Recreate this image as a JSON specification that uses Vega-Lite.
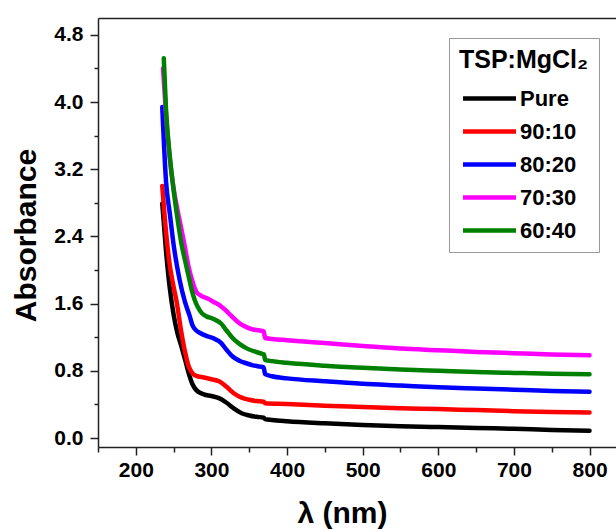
{
  "$schema": "https://vega.github.io/schema/vega-lite/v6.json",
  "width": 518,
  "height": 429,
  "autosize": {"type": "none"},
  "padding": {"left": 98, "top": 18, "right": 0, "bottom": 85},
  "background": "white",
  "config": {"view": {"stroke": null}, "font": "Liberation Sans"},
  "data": {"values": [
    {"s":"Pure","x":235,"y":2.79},{"s":"Pure","x":240,"y":2.22},{"s":"Pure","x":245,"y":1.78},{"s":"Pure","x":250,"y":1.47},{"s":"Pure","x":255,"y":1.25},{"s":"Pure","x":260,"y":1.1},{"s":"Pure","x":265,"y":0.94},{"s":"Pure","x":270,"y":0.77},{"s":"Pure","x":275,"y":0.64},{"s":"Pure","x":280,"y":0.57},{"s":"Pure","x":290,"y":0.52},{"s":"Pure","x":300,"y":0.5},{"s":"Pure","x":310,"y":0.475},{"s":"Pure","x":320,"y":0.42},{"s":"Pure","x":330,"y":0.35},{"s":"Pure","x":340,"y":0.295},{"s":"Pure","x":350,"y":0.268},{"s":"Pure","x":360,"y":0.252},{"s":"Pure","x":369,"y":0.242},{"s":"Pure","x":371,"y":0.225},{"s":"Pure","x":380,"y":0.215},{"s":"Pure","x":400,"y":0.2},{"s":"Pure","x":450,"y":0.175},{"s":"Pure","x":500,"y":0.155},{"s":"Pure","x":550,"y":0.14},{"s":"Pure","x":600,"y":0.13},{"s":"Pure","x":650,"y":0.12},{"s":"Pure","x":700,"y":0.11},{"s":"Pure","x":750,"y":0.096},{"s":"Pure","x":800,"y":0.087},
    {"s":"90:10","x":235,"y":3.0},{"s":"90:10","x":240,"y":2.45},{"s":"90:10","x":245,"y":2.05},{"s":"90:10","x":250,"y":1.8},{"s":"90:10","x":254,"y":1.62},{"s":"90:10","x":260,"y":1.27},{"s":"90:10","x":265,"y":1.03},{"s":"90:10","x":270,"y":0.85},{"s":"90:10","x":275,"y":0.77},{"s":"90:10","x":280,"y":0.74},{"s":"90:10","x":290,"y":0.72},{"s":"90:10","x":300,"y":0.7},{"s":"90:10","x":310,"y":0.675},{"s":"90:10","x":320,"y":0.61},{"s":"90:10","x":330,"y":0.53},{"s":"90:10","x":340,"y":0.48},{"s":"90:10","x":350,"y":0.455},{"s":"90:10","x":360,"y":0.44},{"s":"90:10","x":369,"y":0.432},{"s":"90:10","x":371,"y":0.415},{"s":"90:10","x":400,"y":0.405},{"s":"90:10","x":450,"y":0.385},{"s":"90:10","x":500,"y":0.37},{"s":"90:10","x":550,"y":0.355},{"s":"90:10","x":600,"y":0.345},{"s":"90:10","x":650,"y":0.332},{"s":"90:10","x":700,"y":0.32},{"s":"90:10","x":750,"y":0.31},{"s":"90:10","x":800,"y":0.305},
    {"s":"80:20","x":235,"y":3.94},{"s":"80:20","x":240,"y":3.05},{"s":"80:20","x":245,"y":2.67},{"s":"80:20","x":250,"y":2.3},{"s":"80:20","x":258,"y":1.88},{"s":"80:20","x":265,"y":1.62},{"s":"80:20","x":271,"y":1.46},{"s":"80:20","x":275,"y":1.34},{"s":"80:20","x":280,"y":1.28},{"s":"80:20","x":285,"y":1.25},{"s":"80:20","x":295,"y":1.21},{"s":"80:20","x":302,"y":1.19},{"s":"80:20","x":313,"y":1.13},{"s":"80:20","x":320,"y":1.05},{"s":"80:20","x":328,"y":0.97},{"s":"80:20","x":337,"y":0.92},{"s":"80:20","x":346,"y":0.89},{"s":"80:20","x":355,"y":0.865},{"s":"80:20","x":364,"y":0.85},{"s":"80:20","x":369,"y":0.842},{"s":"80:20","x":371,"y":0.76},{"s":"80:20","x":380,"y":0.735},{"s":"80:20","x":400,"y":0.71},{"s":"80:20","x":450,"y":0.675},{"s":"80:20","x":500,"y":0.645},{"s":"80:20","x":550,"y":0.625},{"s":"80:20","x":600,"y":0.605},{"s":"80:20","x":650,"y":0.59},{"s":"80:20","x":700,"y":0.575},{"s":"80:20","x":750,"y":0.56},{"s":"80:20","x":800,"y":0.55},
    {"s":"70:30","x":236,"y":4.4},{"s":"70:30","x":240,"y":3.85},{"s":"70:30","x":245,"y":3.32},{"s":"70:30","x":250,"y":2.97},{"s":"70:30","x":255,"y":2.72},{"s":"70:30","x":260,"y":2.5},{"s":"70:30","x":265,"y":2.27},{"s":"70:30","x":270,"y":2.03},{"s":"70:30","x":275,"y":1.86},{"s":"70:30","x":280,"y":1.74},{"s":"70:30","x":287,"y":1.69},{"s":"70:30","x":295,"y":1.66},{"s":"70:30","x":303,"y":1.62},{"s":"70:30","x":311,"y":1.58},{"s":"70:30","x":320,"y":1.51},{"s":"70:30","x":328,"y":1.44},{"s":"70:30","x":335,"y":1.38},{"s":"70:30","x":342,"y":1.34},{"s":"70:30","x":352,"y":1.3},{"s":"70:30","x":364,"y":1.28},{"s":"70:30","x":369,"y":1.27},{"s":"70:30","x":371,"y":1.19},{"s":"70:30","x":380,"y":1.18},{"s":"70:30","x":400,"y":1.165},{"s":"70:30","x":450,"y":1.13},{"s":"70:30","x":500,"y":1.095},{"s":"70:30","x":550,"y":1.065},{"s":"70:30","x":600,"y":1.045},{"s":"70:30","x":650,"y":1.025},{"s":"70:30","x":700,"y":1.01},{"s":"70:30","x":750,"y":0.995},{"s":"70:30","x":800,"y":0.985},
    {"s":"60:40","x":237,"y":4.52},{"s":"60:40","x":240,"y":3.9},{"s":"60:40","x":245,"y":3.35},{"s":"60:40","x":250,"y":2.95},{"s":"60:40","x":255,"y":2.62},{"s":"60:40","x":260,"y":2.33},{"s":"60:40","x":265,"y":2.12},{"s":"60:40","x":270,"y":1.92},{"s":"60:40","x":274,"y":1.76},{"s":"60:40","x":278,"y":1.64},{"s":"60:40","x":282,"y":1.56},{"s":"60:40","x":287,"y":1.49},{"s":"60:40","x":293,"y":1.45},{"s":"60:40","x":302,"y":1.42},{"s":"60:40","x":313,"y":1.36},{"s":"60:40","x":320,"y":1.28},{"s":"60:40","x":328,"y":1.19},{"s":"60:40","x":337,"y":1.12},{"s":"60:40","x":346,"y":1.07},{"s":"60:40","x":357,"y":1.03},{"s":"60:40","x":368,"y":1.0},{"s":"60:40","x":369.5,"y":0.995},{"s":"60:40","x":371,"y":0.93},{"s":"60:40","x":380,"y":0.915},{"s":"60:40","x":400,"y":0.895},{"s":"60:40","x":450,"y":0.86},{"s":"60:40","x":500,"y":0.835},{"s":"60:40","x":550,"y":0.815},{"s":"60:40","x":600,"y":0.8},{"s":"60:40","x":650,"y":0.785},{"s":"60:40","x":700,"y":0.775},{"s":"60:40","x":750,"y":0.765},{"s":"60:40","x":800,"y":0.76}
  ]},
  "layer": [
    {
      "mark": {"type": "line", "strokeWidth": 4.5, "interpolate": "monotone", "strokeCap": "round", "strokeJoin": "round"},
      "encoding": {
        "x": {"field": "x", "type": "quantitative",
          "scale": {"domain": [150, 835], "nice": false, "zero": false},
          "axis": {
            "values": [150,200,250,300,350,400,450,500,550,600,650,700,750,800],
            "labelExpr": "datum.value % 100 == 0 ? datum.label : ''",
            "format": "d",
            "grid": false,
            "domainColor": "#222", "domainWidth": 1.5,
            "tickColor": "#222", "tickWidth": 1.5,
            "tickSize": {"condition": {"test": "datum.value % 100 == 0", "value": 8}, "value": 5},
            "labelFont": "Liberation Sans", "labelFontWeight": "bold", "labelFontSize": 21, "labelColor": "black",
            "labelPadding": 4, "labelFlush": false, "labelOverlap": false,
            "title": "λ (nm)", "titleFont": "Liberation Sans", "titleFontWeight": "bold", "titleFontSize": 30, "titleColor": "black",
            "titleX": 244, "titleY": 75, "titleAlign": "center", "titleBaseline": "alphabetic"
          }
        },
        "y": {"field": "y", "type": "quantitative",
          "scale": {"domain": [-0.107, 5.0], "nice": false, "zero": false},
          "axis": {
            "values": [0,0.4,0.8,1.2,1.6,2,2.4,2.8,3.2,3.6,4,4.4,4.8],
            "labelExpr": "abs(datum.value/0.8 - round(datum.value/0.8)) < 0.01 ? format(datum.value, '.1f') : ''",
            "grid": false,
            "domainColor": "#222", "domainWidth": 1.5,
            "tickColor": "#222", "tickWidth": 1.5,
            "tickSize": {"condition": {"test": "abs(datum.value/0.8 - round(datum.value/0.8)) < 0.01", "value": 8}, "value": 4},
            "labelFont": "Liberation Sans", "labelFontWeight": "bold", "labelFontSize": 21, "labelColor": "black",
            "labelPadding": 7, "labelFlush": false, "labelOverlap": false,
            "title": "Absorbance", "titleFont": "Liberation Sans", "titleFontWeight": "bold", "titleFontSize": 30, "titleColor": "black",
            "titleX": -63, "titleY": 217, "titleAlign": "center", "titleBaseline": "alphabetic", "titleAngle": -90
          }
        },
        "color": {"field": "s", "type": "nominal",
          "scale": {"domain": ["Pure","90:10","80:20","70:30","60:40"], "range": ["#000000","#ff0000","#0000ff","#ff00ff","#008000"]},
          "legend": {
            "orient": "none", "legendX": 351, "legendY": 20,
            "title": "TSP:MgCl₂", "titleFont": "Liberation Sans", "titleFontWeight": "bold", "titleFontSize": 25, "titleColor": "black", "titlePadding": 10,
            "labelFont": "Liberation Sans", "labelFontWeight": "bold", "labelFontSize": 22, "labelColor": "black", "labelOffset": 15,
            "symbolType": "M-2,0H2", "symbolStrokeWidth": 4.5, "symbolSize": 702, "symbolFillColor": "transparent", "symbolOffset": 15,
            "strokeColor": "#999", "padding": 10, "rowPadding": 6, "fillColor": "white"
          }
        }
      }
    },
    {
      "mark": {"type": "point", "opacity": 0},
      "encoding": {
        "x": {"field": "x", "type": "quantitative",
          "scale": {"domain": [150, 835], "nice": false, "zero": false},
          "axis": {"orient": "top", "labels": false, "ticks": false, "title": null, "grid": false, "domainColor": "#222", "domainWidth": 1.5}}
      }
    }
  ],
  "resolve": {"axis": {"x": "independent"}}
}
